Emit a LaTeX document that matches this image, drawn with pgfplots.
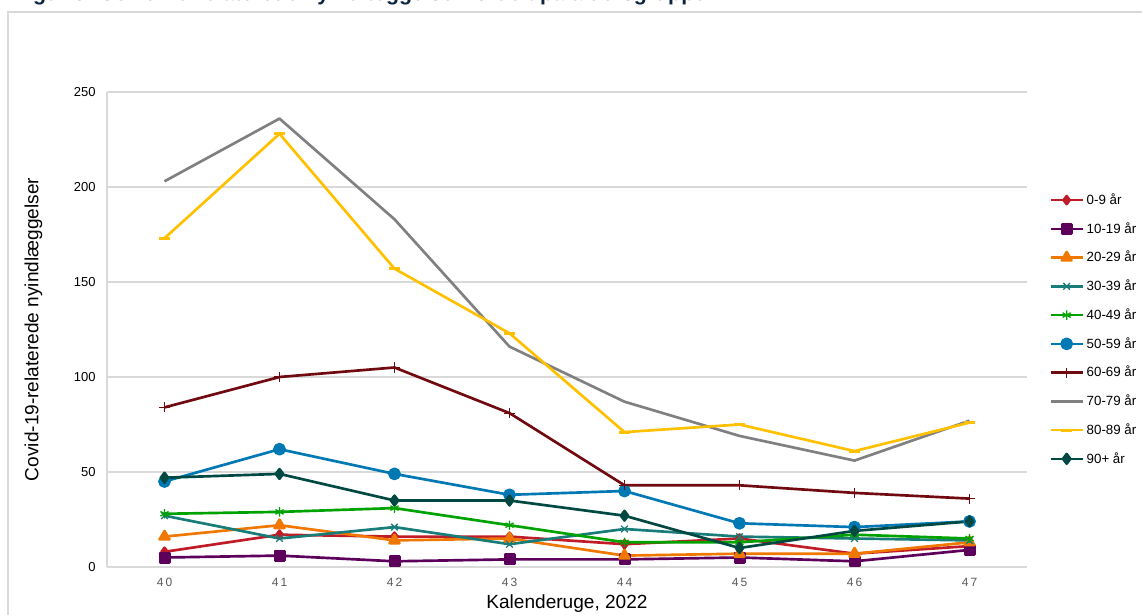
\documentclass[border=0pt]{standalone}
\usepackage{fontspec}
\setmainfont{Liberation Sans}
\usepackage{pgfplots}
\pgfplotsset{compat=1.18}

% series colours
\definecolor{c09}{RGB}{192,28,40}
\definecolor{c1019}{RGB}{92,0,92}
\definecolor{c2029}{RGB}{240,120,0}
\definecolor{c3039}{RGB}{24,124,120}
\definecolor{c4049}{RGB}{0,162,0}
\definecolor{c5059}{RGB}{0,120,180}
\definecolor{c6069}{RGB}{112,10,16}
\definecolor{c7079}{RGB}{128,128,128}
\definecolor{c8089}{RGB}{255,192,0}
\definecolor{c90}{RGB}{0,72,66}
\definecolor{gridc}{RGB}{217,217,217}
\definecolor{ticktxt}{RGB}{89,89,89}
\definecolor{titlec}{RGB}{12,35,64}

% weekly admissions by age group, weeks 40-47
\pgfplotstableread{
uge a09 a1019 a2029 a3039 a4049 a5059 a6069 a7079 a8089 a90
40  8   5   16  27  28  45  84  203 173 47
41  17  6   22  15  29  62  100 236 228 49
42  16  3   14  21  31  49  105 183 157 35
43  16  4   15  12  22  38  81  116 123 35
44  12  4   6   20  13  40  43  87  71  27
45  15  5   7   16  13  23  43  69  75  10
46  7   3   7   15  17  21  39  56  61  19
47  11  9   13  14  15  24  36  77  76  24
}\datatable

\begin{document}
\begin{tikzpicture}[x=0.75pt,y=0.75pt]
\useasboundingbox (0,0) rectangle (1142,614);
% chart frame
\draw[gridc, line width=1.1pt] (8,-20) -- (8,602) -- (1160,602);
% heading, cut at the top edge
\node[anchor=base west, inner sep=0pt, text=titlec, font=\bfseries\fontsize{16}{19}\selectfont]
  at (14,613) {Figur 8. Covid-19-relaterede nyindlæggelser fordelt på aldersgrupper};

\begin{axis}[
  at={(80.25pt,35.25pt)}, anchor=south west,
  width=690pt, height=356.25pt, scale only axis,
  xmin=39.5, xmax=47.5, ymin=0, ymax=250,
  xtick={40,...,47},
  xticklabels={4\kern1.6pt0,4\kern1.6pt1,4\kern1.6pt2,4\kern1.6pt3,4\kern1.6pt4,4\kern1.6pt5,4\kern1.6pt6,4\kern1.6pt7},
  ytick={0,50,...,250},
  axis x line*=bottom, axis y line*=left,
  axis line style={draw=gridc, line width=1.1pt, -},
  ymajorgrids, grid style={draw=gridc, line width=1.1pt},
  major tick length=0pt,
  /pgf/number format/assume math mode=true,
  yticklabel style={font=\fontsize{9.75}{11}\selectfont, text=black, xshift=-5pt},
  xticklabel style={font=\fontsize{9}{11}\selectfont, text=ticktxt, yshift=-5pt},
  xlabel={Kalenderuge, 2022},
  ylabel={Covid-19-relaterede nyindlæggelser},
  xlabel style={font=\fontsize{14.3}{16}\selectfont, at={(axis description cs:0.5,-0.078)}, anchor=center},
  ylabel style={font=\fontsize{14.3}{16}\selectfont, at={(axis description cs:-0.080,0.5)}, anchor=center, rotate=0},
  legend style={at={(axis description cs:1.024,0.792)}, anchor=north west, draw=none, fill=none,
    font=\fontsize{10}{12}\selectfont, row sep=8pt, inner sep=0pt,
    /tikz/every even column/.append style={column sep=1pt}},
  legend cell align=left,
  legend image code/.code={\draw[mark repeat=2,mark phase=2,#1] plot coordinates {(0pt,0pt) (12pt,0pt) (24pt,0pt)};},
  every axis plot/.append style={line width=2pt, line join=round},
]
\addplot[c09, mark=diamond*, mark size=3pt] table[x=uge,y=a09] \datatable;
\addlegendentry{0-9 år}
\addplot[c1019, mark=square*, mark size=3.5pt] table[x=uge,y=a1019] \datatable;
\addlegendentry{10-19 år}
\addplot[c2029, mark=triangle*, mark size=4.2pt] table[x=uge,y=a2029] \datatable;
\addlegendentry{20-29 år}
\addplot[c3039, mark=x, mark size=3.5pt, mark options={line width=1pt}] table[x=uge,y=a3039] \datatable;
\addlegendentry{30-39 år}
\addplot[c4049, mark=asterisk, mark size=3.5pt, mark options={line width=1pt}] table[x=uge,y=a4049] \datatable;
\addlegendentry{40-49 år}
\addplot[c5059, mark=*, mark size=3.8pt] table[x=uge,y=a5059] \datatable;
\addlegendentry{50-59 år}
\addplot[c6069, mark=+, mark size=3.8pt, mark options={line width=0.9pt}] table[x=uge,y=a6069] \datatable;
\addlegendentry{60-69 år}
\addplot[c7079, no markers] table[x=uge,y=a7079] \datatable;
\addlegendentry{70-79 år}
\addplot[c8089, mark=-, mark size=4pt, mark options={line width=2.2pt}] table[x=uge,y=a8089] \datatable;
\addlegendentry{80-89 år}
\addplot[c90, mark=diamond*, mark size=3.6pt] table[x=uge,y=a90] \datatable;
\addlegendentry{90+ år}
\end{axis}
\end{tikzpicture}
\end{document}
